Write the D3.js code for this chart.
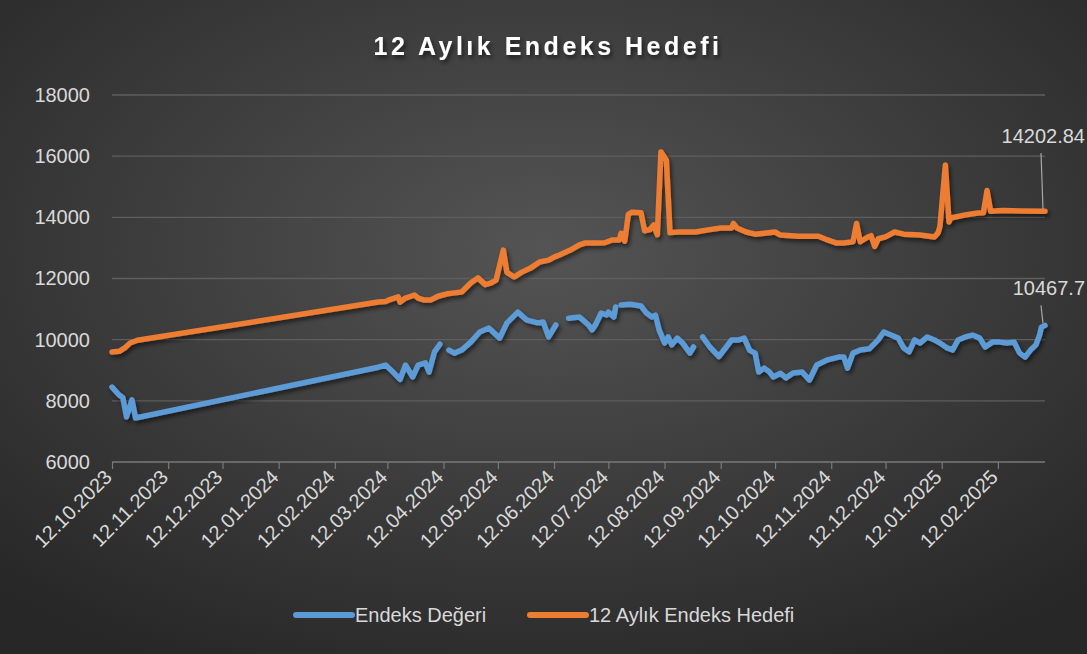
<!DOCTYPE html>
<html>
<head>
<meta charset="utf-8">
<script src="https://cdn.jsdelivr.net/npm/d3@7"></script>
<style>
  html, body { margin: 0; padding: 0; background: #2a2a2a; }
  svg { display: block; }
</style>
</head>
<body>
<div id="chart"></div>
<script>
// veriler
let endeksTarih = ["2023-10-12","2023-10-16","2023-10-18","2023-10-20","2023-10-23","2023-10-25",
  "2024-03-07","2024-03-11","2024-03-15","2024-03-19","2024-03-22","2024-03-26","2024-03-29","2024-04-02",
  "2024-04-04","2024-04-07","2024-04-10","2024-04-12","2024-04-15","2024-04-18","2024-04-22","2024-04-27",
  "2024-05-02","2024-05-07","2024-05-13","2024-05-17","2024-05-23","2024-05-28","2024-06-03","2024-06-06",
  "2024-06-09","2024-06-13","2024-06-15","2024-06-20","2024-06-26","2024-06-28","2024-07-01","2024-07-03",
  "2024-07-05","2024-07-08","2024-07-11","2024-07-12","2024-07-15","2024-07-16","2024-07-17","2024-07-19",
  "2024-07-24","2024-07-30","2024-08-02","2024-08-05","2024-08-07","2024-08-09","2024-08-12","2024-08-14",
  "2024-08-16","2024-08-19","2024-08-22","2024-08-26","2024-08-28","2024-08-30","2024-09-02","2024-09-06",
  "2024-09-11","2024-09-14","2024-09-18","2024-09-22","2024-09-25","2024-09-28","2024-10-01","2024-10-03",
  "2024-10-06","2024-10-09","2024-10-11","2024-10-15","2024-10-18","2024-10-22","2024-10-27","2024-10-31",
  "2024-11-04","2024-11-10","2024-11-16","2024-11-19","2024-11-21","2024-11-24","2024-11-28","2024-12-03",
  "2024-12-08","2024-12-11","2024-12-15","2024-12-19","2024-12-22","2024-12-25","2024-12-28","2024-12-31",
  "2025-01-04","2025-01-08","2025-01-11","2025-01-15","2025-01-18","2025-01-21","2025-01-25","2025-01-29",
  "2025-02-02","2025-02-05","2025-02-09","2025-02-13","2025-02-17","2025-02-21","2025-02-24","2025-02-27",
  "2025-03-02","2025-03-05","2025-03-07","2025-03-08","2025-03-10"];
let endeksDeger = [8450,8190,8100,7470,8030,7440,
  9100,9170,8950,8700,9170,8780,9170,9240,
  8940,9600,9850,null,9660,9560,9660,9920,
  10250,10380,10050,10550,10900,10640,10550,10580,
  10090,10480,null,10700,10740,10640,10480,10320,
  10500,10870,10810,10900,10740,11070,null,11130,
  11160,11100,10870,10740,10800,10320,9890,10090,
  9830,10050,9890,9560,9760,null,10090,9760,
  9450,9680,9990,9990,10050,9650,9560,8940,
  9070,8940,8780,8900,8750,8910,8940,8680,
  9170,9340,9430,9430,9070,9560,9660,9700,
  10000,10250,10150,10050,9730,9600,9990,9890,
  10090,9990,9890,9730,9660,9990,10090,10150,
  10050,9760,9920,9920,9890,9920,9560,9430,
  9660,9830,10150,10410,10467.7];

let hedefTarih = ["2023-10-12","2023-10-16","2023-10-19","2023-10-22","2023-10-26",
  "2024-03-07","2024-03-11","2024-03-13","2024-03-18","2024-03-19","2024-03-22","2024-03-27","2024-03-29",
  "2024-04-01","2024-04-05","2024-04-09","2024-04-14","2024-04-18","2024-04-22","2024-04-27","2024-05-01",
  "2024-05-05","2024-05-08","2024-05-11","2024-05-15","2024-05-17","2024-05-21","2024-05-25","2024-05-30",
  "2024-06-04","2024-06-09","2024-06-12","2024-06-15","2024-06-21","2024-06-26","2024-06-29","2024-07-05",
  "2024-07-10","2024-07-14","2024-07-18","2024-07-19","2024-07-21","2024-07-23","2024-07-25","2024-07-30",
  "2024-08-01","2024-08-04","2024-08-06","2024-08-08","2024-08-10","2024-08-13","2024-08-15","2024-08-20",
  "2024-08-29","2024-09-05","2024-09-12","2024-09-18","2024-09-19","2024-09-21","2024-09-26","2024-10-01",
  "2024-10-06","2024-10-12","2024-10-15","2024-10-25","2024-11-05","2024-11-10","2024-11-15","2024-11-19",
  "2024-11-21","2024-11-24","2024-11-26","2024-11-28","2024-12-02","2024-12-04","2024-12-06","2024-12-08",
  "2024-12-12","2024-12-17","2024-12-22","2024-12-31","2025-01-08","2025-01-10","2025-01-11","2025-01-14",
  "2025-01-16","2025-01-17","2025-01-25","2025-02-01","2025-02-04","2025-02-06","2025-02-08","2025-02-15",
  "2025-02-25","2025-03-10"];
let hedefDeger = [9600,9620,9730,9890,9980,
  11230,11250,11300,11400,11230,11360,11460,11360,
  11300,11300,11420,11500,11530,11560,11850,12020,
  11800,11850,11950,12930,12200,12050,12200,12340,
  12540,12600,12700,12770,12930,13100,13160,13160,
  13170,13260,13260,13480,13220,14100,14170,14150,
  13560,13600,13750,13430,16140,15870,13500,13520,
  13520,13590,13650,13650,13800,13650,13520,13450,
  13480,13520,13420,13380,13380,13260,13160,13160,
  13180,13200,13800,13200,13350,13400,13050,13300,
  13360,13520,13450,13420,13360,13500,13700,15710,
  13850,13980,14080,14140,14150,14880,14200,14220,
  14210,14202.84];

let tikTarih = ["2023-10-12","2023-11-12","2023-12-12","2024-01-12","2024-02-12","2024-03-12",
  "2024-04-12","2024-05-12","2024-06-12","2024-07-12","2024-08-12","2024-09-12","2024-10-12",
  "2024-11-12","2024-12-12","2025-01-12","2025-02-12"];
let yTik = [6000,8000,10000,12000,14000,16000,18000];

let width = 1087, height = 654;
let parse = d3.timeParse("%Y-%m-%d");
let fmt = d3.timeFormat("%d.%m.%Y");

let svg = d3.select("#chart").append("svg")
    .attr("width", width)
    .attr("height", height);

let defs = svg.append("defs");
let grad = defs.append("radialGradient").attr("id","bg")
    .attr("cx","50%").attr("cy","38%").attr("r","72%");
grad.append("stop").attr("offset","0%").attr("stop-color","#545454");
grad.append("stop").attr("offset","100%").attr("stop-color","#272727");

let sh = defs.append("filter").attr("id","golge")
    .attr("x","-10%").attr("y","-10%").attr("width","120%").attr("height","130%");
sh.append("feDropShadow").attr("dx",2).attr("dy",3).attr("stdDeviation",2)
    .attr("flood-color","#000").attr("flood-opacity",0.55);

svg.append("rect").attr("width",width).attr("height",height).attr("fill","url(#bg)");

let x = d3.scaleTime()
    .domain([parse("2023-10-12"), parse("2025-03-10")])
    .range([112, 1045]);
let y = d3.scaleLinear()
    .domain([6000, 18000])
    .range([462, 95]);

// yatay ızgara
svg.append("g").selectAll("line")
    .data(yTik.slice(1))
    .enter().append("line")
    .attr("x1",112).attr("x2",1045)
    .attr("y1",d=>y(d)).attr("y2",d=>y(d))
    .attr("stroke","#5e5e5e").attr("stroke-width",1.3);

// y ekseni
let yAx = svg.append("g")
    .attr("transform","translate(90,0)")
    .call(d3.axisLeft(y).tickValues(yTik).tickSize(0).tickPadding(0).tickFormat(d3.format("d")));
yAx.select(".domain").remove();
yAx.selectAll("text")
    .attr("fill","#d9d9d9")
    .style("font-family","'Liberation Sans', Arial, sans-serif")
    .style("font-size","20px");

// x ekseni
let xAx = svg.append("g")
    .attr("transform","translate(0,462)")
    .call(d3.axisBottom(x).tickValues(tikTarih.map(parse)).tickSize(7).tickFormat(fmt));
xAx.select(".domain").attr("stroke","#7a7a7a").attr("stroke-width",1.3).attr("d","M112,0H1045");
xAx.selectAll(".tick line").attr("stroke","#7a7a7a").attr("stroke-width",1.2);
xAx.selectAll("text")
    .attr("fill","#d9d9d9")
    .style("font-family","'Liberation Sans', Arial, sans-serif")
    .style("font-size","20px")
    .attr("text-anchor","end")
    .attr("dx","-11px")
    .attr("dy","2px")
    .attr("transform","rotate(-45)");

// seriler
function seri(tarih, deger) {
    return tarih.map((t,i) => ({date: parse(t), v: deger[i]}));
}
let line = d3.line()
    .defined(d => d.v != null)
    .x(d => x(d.date))
    .y(d => y(d.v));

let seriler = [
    {ad: "Endeks Değeri", renk: "#5b9bd5", veri: seri(endeksTarih, endeksDeger)},
    {ad: "12 Aylık Endeks Hedefi", renk: "#ed7d31", veri: seri(hedefTarih, hedefDeger)}
];

svg.append("g").attr("filter","url(#golge)")
    .selectAll("path")
    .data(seriler.slice().reverse())
    .enter().append("path")
    .attr("d", d => line(d.veri))
    .attr("fill","none")
    .attr("stroke", d => d.renk)
    .attr("stroke-width",5.5)
    .attr("stroke-linejoin","round")
    .attr("stroke-linecap","round");

// son değer etiketleri
let etiket = [
    {p: seriler[1].veri[seriler[1].veri.length-1], txt: "14202.84", dy: -58},
    {p: seriler[0].veri[seriler[0].veri.length-1], txt: "10467.7", dy: -20}
];
etiket.forEach(function(e){
    let px = x(e.p.date), py = y(e.p.v);
    svg.append("line")
        .attr("x1",px-2).attr("y1",py-2)
        .attr("x2",px-4).attr("y2",py+e.dy)
        .attr("stroke","#a6a6a6").attr("stroke-width",1.2);
    svg.append("text")
        .attr("x",1085).attr("y",py+e.dy-10)
        .attr("text-anchor","end")
        .attr("fill","#d9d9d9")
        .style("font-family","'Liberation Sans', Arial, sans-serif")
        .style("font-size","20px")
        .text(e.txt);
});

// başlık
svg.append("text")
    .attr("x",548).attr("y",55)
    .attr("text-anchor","middle")
    .attr("fill","#ffffff")
    .attr("filter","url(#golge)")
    .style("font-family","'Liberation Sans', Arial, sans-serif")
    .style("font-size","25px")
    .style("font-weight","bold")
    .style("letter-spacing","3.5px")
    .text("12 Aylık Endeks Hedefi");

// lejant
let lej = svg.append("g");
let lx = [296, 530];
seriler.forEach(function(s,i){
    lej.append("line")
        .attr("x1",lx[i]).attr("x2",lx[i]+56)
        .attr("y1",615).attr("y2",615)
        .attr("stroke",s.renk).attr("stroke-width",6).attr("stroke-linecap","round");
    lej.append("text")
        .attr("x",lx[i]+59).attr("y",622)
        .attr("fill","#d9d9d9")
        .style("font-family","'Liberation Sans', Arial, sans-serif")
        .style("font-size","20px")
        .text(s.ad);
});
</script>
</body>
</html>
